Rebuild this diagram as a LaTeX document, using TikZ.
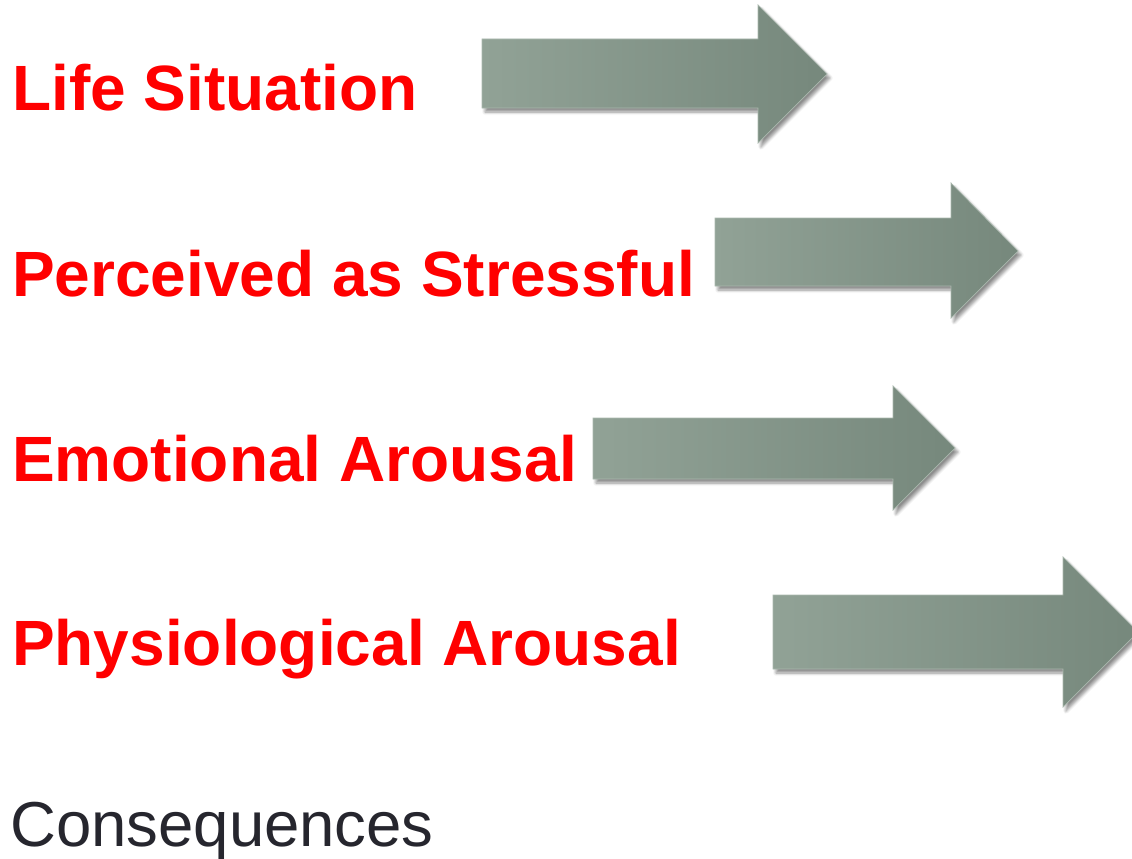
\documentclass[tikz,border=0pt]{standalone}
\usepackage{fontspec}
\setmainfont{Liberation Sans}
\usetikzlibrary{shadows.blur}
\definecolor{lblred}{RGB}{255,0,0}
\definecolor{conseq}{RGB}{38,38,46}
\definecolor{arrowL}{RGB}{145,162,150}
\definecolor{arrowR}{RGB}{118,136,124}
\definecolor{arrowEdge}{RGB}{170,184,174}
\tikzset{
  lbl/.style={anchor=base west, inner sep=0pt, text=lblred, font=\fontsize{64}{70}\selectfont\bfseries},
  plainlbl/.style={anchor=base west, inner sep=0pt, text=conseq, font=\fontsize{63.5}{70}\selectfont},
  grarrow/.style={left color=arrowL, right color=arrowR, draw=arrowEdge, line width=0.7pt, line join=miter,
    blur shadow={shadow xshift=3pt, shadow yshift=-4pt, shadow blur steps=6, shadow blur radius=3pt, shadow opacity=45}}
}
% #1 shaft left x, #2 shaft top, #3 shaft bottom, #4 head x, #5 head top, #6 head bottom, #7 tip x, #8 tip y
\newcommand\grayarrow[8]{%
  \path[grarrow] (#1,#2) -- (#4,#2) -- (#4,#5) -- (#7,#8) -- (#4,#6) -- (#4,#3) -- (#1,#3) -- cycle;}
\begin{document}
\begin{tikzpicture}[x=1pt,y=-1pt]
\useasboundingbox (0,0) rectangle (1132,859);
\node[lbl] (t1) at (12,110) {Life Situation};
\node[lbl] (t2) at (12,296) {Perceived as Stressful};
\node[lbl] (t3) at (12,481) {Emotional Arousal};
\node[lbl] (t4) at (12,665) {Physiological Arousal};
\node[plainlbl] (t5) at (10,846) {Consequences};
\grayarrow{482}{39}{108}{758}{5}{143}{827}{74}
\grayarrow{715}{218}{286}{951}{183}{318}{1018}{251}
\grayarrow{593}{418}{479}{893}{386}{510}{955}{448}
\grayarrow{773}{595}{669}{1063}{557}{707}{1138}{632}
\end{tikzpicture}
\end{document}
